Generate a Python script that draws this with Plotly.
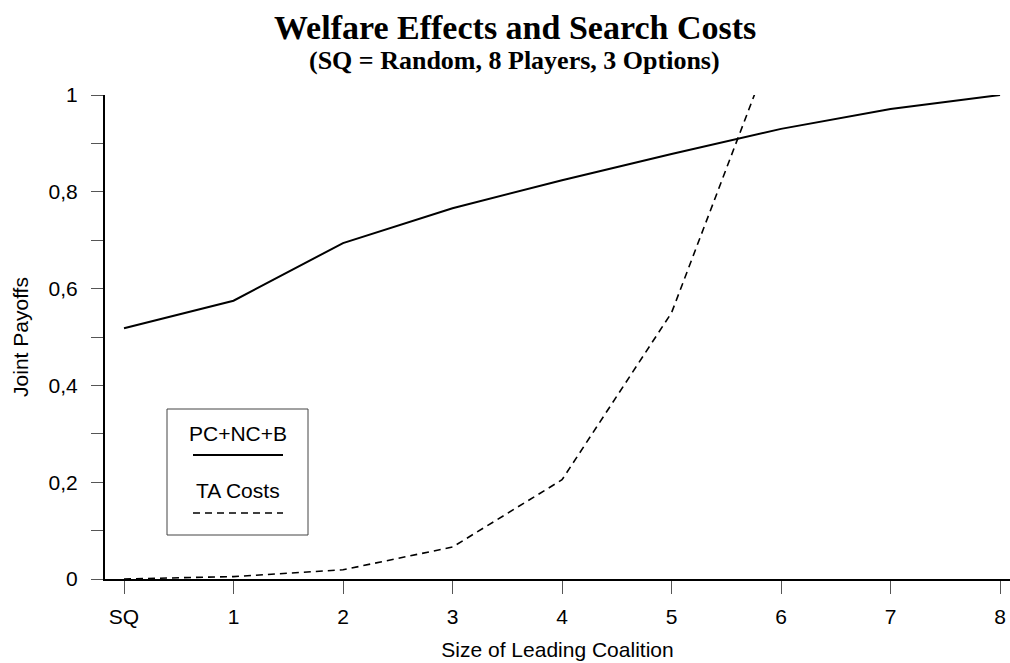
import plotly.graph_objects as go

# ---- data ----
x_pos = [0, 1, 2, 3, 4, 5, 6, 7, 8]
x_labels = ["SQ", "1", "2", "3", "4", "5", "6", "7", "8"]
welfare_name = "PC+NC+B"
welfare = [0.518, 0.575, 0.694, 0.766, 0.824, 0.878, 0.930, 0.971, 1.0]
cost_name = "TA Costs"
cost_x = [0, 1, 2, 3, 4, 5, 6]
costs = [0.0, 0.005, 0.019, 0.066, 0.205, 0.55, 1.145]
y_major = [0, 0.2, 0.4, 0.6, 0.8, 1.0]
y_major_text = ["0", "0,2", "0,4", "0,6", "0,8", "1"]
y_minor = [0.1, 0.3, 0.5, 0.7, 0.9]

title = "Welfare Effects and Search Costs"
subtitle = "(SQ = Random, 8 Players, 3 Options)"
x_title = "Size of Leading Coalition"
y_title = "Joint Payoffs"

fig = go.Figure()
fig.add_trace(go.Scatter(x=x_pos, y=welfare, mode="lines", name=welfare_name,
                         line=dict(color="black", width=2), showlegend=False))
fig.add_trace(go.Scatter(x=cost_x, y=costs, mode="lines", name=cost_name,
                         line=dict(color="black", width=1.6, dash="7px,5px"), showlegend=False))

W, H = 1010, 663
L, R, T, B = 105, 0, 95, 84

fig.update_layout(
    width=W, height=H,
    margin=dict(l=L, r=R, t=T, b=B, pad=0),
    paper_bgcolor="white", plot_bgcolor="white",
    font=dict(family="Liberation Sans, Arial, sans-serif", size=21, color="black"),
    showlegend=False,
)
fig.update_xaxes(
    range=[-0.1735, 8.091], tickmode="array", tickvals=x_pos, ticktext=x_labels,
    showgrid=False, zeroline=False, showline=True, linecolor="black", linewidth=2,
    ticks="outside", ticklen=13, tickwidth=1, tickcolor="#555555",
    ticklabelstandoff=5, ticklabeloverflow="allow",
    title=dict(text=x_title, standoff=15, font=dict(size=21)),
)
fig.update_yaxes(
    range=[0, 1], tickmode="array", tickvals=y_major, ticktext=y_major_text,
    showgrid=False, zeroline=False, showline=True, linecolor="black", linewidth=2,
    ticks="outside", ticklen=12, tickwidth=1, tickcolor="#555555",
    ticklabelstandoff=9,
    minor=dict(tickmode="array", tickvals=y_minor, ticks="outside", ticklen=12,
               tickwidth=1, tickcolor="#555555"),
    title=dict(text=y_title, standoff=14, font=dict(size=21)),
)

def px_x(px):
    return (px - L) / (W - L - R)

def px_y(py):
    return (H - B - py) / (H - T - B)

serif = "Liberation Serif, Times New Roman, serif"
fig.add_annotation(text="<b>" + title + "</b>", xref="paper", yref="paper",
                   x=px_x(515), y=px_y(28), xanchor="center", yanchor="middle",
                   showarrow=False, font=dict(family=serif, size=34, color="black"))
fig.add_annotation(text="<b>" + subtitle + "</b>", xref="paper", yref="paper",
                   x=px_x(514), y=px_y(61), xanchor="center", yanchor="middle",
                   showarrow=False, font=dict(family=serif, size=26, color="black"))

# ---- custom legend (text above line sample, boxed) ----
fig.add_shape(type="rect", xref="paper", yref="paper",
              x0=px_x(167), x1=px_x(308), y0=px_y(535), y1=px_y(409),
              line=dict(color="#444444", width=1), fillcolor="rgba(0,0,0,0)")
fig.add_annotation(text=welfare_name, xref="paper", yref="paper",
                   x=px_x(237.5), y=px_y(433), xanchor="center", yanchor="middle",
                   showarrow=False, font=dict(size=21))
fig.add_shape(type="line", xref="paper", yref="paper",
              x0=px_x(193), x1=px_x(283), y0=px_y(455), y1=px_y(455),
              line=dict(color="black", width=2))
fig.add_annotation(text=cost_name, xref="paper", yref="paper",
                   x=px_x(237.5), y=px_y(491), xanchor="center", yanchor="middle",
                   showarrow=False, font=dict(size=21))
fig.add_shape(type="line", xref="paper", yref="paper",
              x0=px_x(193), x1=px_x(283), y0=px_y(513), y1=px_y(513),
              line=dict(color="black", width=1.6, dash="7px,5px"))

fig.write_html("out.html", config={"displayModeBar": False},
               post_script="document.body.style.margin='0px';document.body.style.overflow='hidden';")
